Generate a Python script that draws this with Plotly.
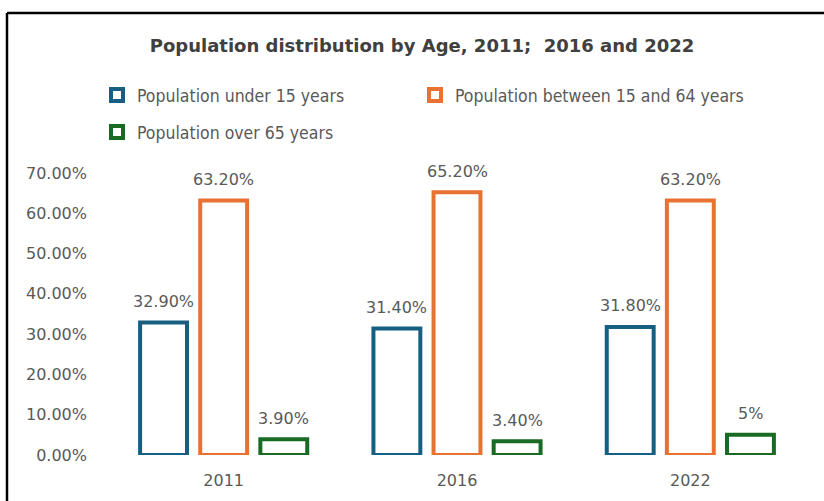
import plotly.graph_objects as go

years = ["2011", "2016", "2022"]
under15 = [0.329, 0.314, 0.318]
between15_64 = [0.632, 0.652, 0.632]
over65 = [0.039, 0.034, 0.05]
labels_under15 = ["32.90%", "31.40%", "31.80%"]
labels_between = ["63.20%", "65.20%", "63.20%"]
labels_over65 = ["3.90%", "3.40%", "5%"]
series_names = ["Population under 15 years", "Population between 15 and 64 years", "Population over 65 years"]
colors = ["#156082", "#E97132", "#196B24"]

W, H = 824, 501
L, R, T, B = 107, 17, 173, 46
pw, ph = W - L - R, H - T - B


def px(x):
    return (x - L) / pw


def py(y):
    return (H - B - y) / ph


NARROW = "DejaVu Sans Condensed, DejaVu Sans, sans-serif"
REG = "DejaVu Sans, sans-serif"
GREY = "#595959"

legend_pos = [(97, 95), (415, 95), (97, 132)]
legend_ids = ["legend", "legend2", "legend3"]

BARGAP, GROUPGAP = 0.227, 0.22
slot = (1 - BARGAP) * (pw / len(years)) / 3
shifts = [-slot, 0, slot]

fig = go.Figure()
for name, vals, labs, col, lid, sh in zip(series_names, [under15, between15_64, over65],
                                          [labels_under15, labels_between, labels_over65],
                                          colors, legend_ids, shifts):
    fig.add_trace(go.Bar(
        x=years, y=vals, name=name,
        marker=dict(color="white", line=dict(color=col, width=4)),
        hoverinfo="skip", legend=lid,
    ))
    # category axis: annotation x given as the category's serial index
    for idx, (v, lab) in enumerate(zip(vals, labs)):
        fig.add_annotation(x=idx, y=v, xref="x", yref="y", text=lab, showarrow=False,
                           xshift=sh, yshift=21, yanchor="middle",
                           font=dict(family=REG, size=16, color=GREY))

legend_common = dict(orientation="h", xanchor="left", yanchor="middle", itemwidth=30,
                     bgcolor="rgba(0,0,0,0)",
                     font=dict(family=NARROW, size=17.5, color=GREY))
layout_legends = {}
for lid, (lx, ly) in zip(legend_ids, legend_pos):
    layout_legends[lid] = dict(x=px(lx), y=py(ly), **legend_common)

fig.update_layout(
    width=W, height=H,
    margin=dict(l=L, r=R, t=T, b=B),
    paper_bgcolor="white", plot_bgcolor="white",
    barmode="group", bargap=BARGAP, bargroupgap=GROUPGAP,
    title=dict(text="<b>Population distribution by Age, 2011;  2016 and 2022</b>",
               x=422 / W, xanchor="center", y=1 - 46 / H, yanchor="middle",
               font=dict(family=REG, size=18, color="#404040")),
    xaxis=dict(type="category", categoryorder="array", categoryarray=years,
               range=[-0.5, len(years) - 0.5],
               showgrid=False, showline=False, ticks="", zeroline=False, ticklabelstandoff=14,
               tickfont=dict(family=REG, size=16, color=GREY)),
    yaxis=dict(range=[0, 0.7], dtick=0.1, tickformat=".2%", showgrid=False, zeroline=False,
               showline=False, ticks="", ticklabelstandoff=19,
               tickfont=dict(family=REG, size=16, color=GREY)),
    showlegend=True,
    **layout_legends,
)

fig.add_shape(type="line", xref="paper", yref="paper", x0=px(7), x1=px(830), y0=py(13), y1=py(13),
              line=dict(color="black", width=2.5))
fig.add_shape(type="line", xref="paper", yref="paper", x0=px(7), x1=px(7), y0=py(13), y1=py(510),
              line=dict(color="black", width=2.5))

fig.write_html("out.html", config={"displayModeBar": False},
               post_script="document.body.style.margin='0';document.body.style.overflow='hidden';")
